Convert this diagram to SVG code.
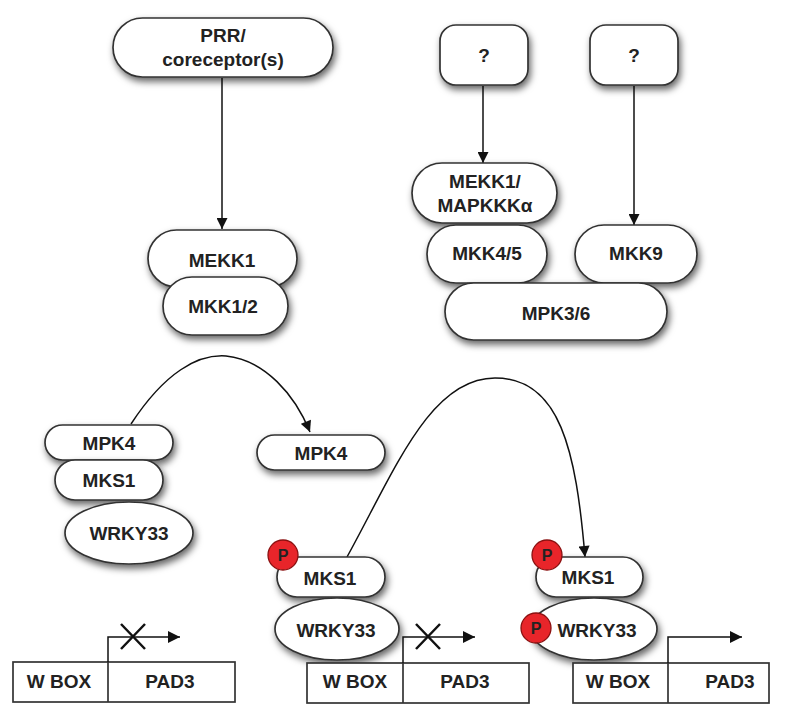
<svg xmlns="http://www.w3.org/2000/svg" width="785" height="704" viewBox="0 0 785 704">
<defs>
<filter id="sh" x="-20%" y="-30%" width="140%" height="170%">
<feDropShadow dx="2" dy="4" stdDeviation="3.5" flood-color="#000" flood-opacity="0.6"/>
</filter>
<marker id="ah" viewBox="0 0 10 10" refX="10" refY="5" markerWidth="12" markerHeight="11" markerUnits="userSpaceOnUse" orient="auto">
<path d="M0,0 L10,5 L0,10 z" fill="#111"/>
</marker>
<marker id="ah2" viewBox="0 0 10 10" refX="10" refY="5" markerWidth="15" markerHeight="12" markerUnits="userSpaceOnUse" orient="auto">
<path d="M0,0 L10,5 L0,10 z" fill="#111"/>
</marker>
</defs>
<style>
.n{fill:#fff;stroke:#333;stroke-width:1.7;filter:url(#sh)}
.t{font-family:"Liberation Sans",Arial,sans-serif;font-weight:bold;font-size:19px;fill:#222;text-anchor:middle}
.c{fill:none;stroke:#111;stroke-width:1.5}
.g{fill:#fff;stroke:#333;stroke-width:1.7}
.x{fill:none;stroke:#111;stroke-width:2.5}
.p{fill:#e8252a;stroke:#8a1010;stroke-width:1.3}
.pt{font-family:"Liberation Sans",Arial,sans-serif;font-weight:bold;font-size:16px;fill:#222;text-anchor:middle}
</style>
<rect width="785" height="704" fill="#fff"/>

<g id="connectors">
<line class="c" x1="222" y1="78" x2="222" y2="229" marker-end="url(#ah)"/>
<line class="c" x1="483" y1="86" x2="483" y2="163" marker-end="url(#ah)"/>
<line class="c" x1="634" y1="86" x2="634" y2="225" marker-end="url(#ah)"/>
<path class="c" d="M131,424 C165,372 198,354 226,356 C265,360 295,395 310,432" marker-end="url(#ah)"/>
<path class="c" d="M347,557 C395,470 430,378 495,378 C560,378 576,450 585,557" marker-end="url(#ah)"/>
</g>

<g id="prr"><rect class="n" x="113" y="18" width="220" height="59" rx="29.5"/>
<text class="t" x="223" y="42">PRR/</text><text class="t" x="223" y="66">coreceptor(s)</text></g>

<g id="q1"><rect class="n" x="440" y="25" width="88" height="60" rx="16"/><text class="t" x="484" y="62">?</text></g>
<g id="q2"><rect class="n" x="590" y="25" width="88" height="60" rx="16"/><text class="t" x="634" y="62">?</text></g>

<g id="mekk1"><rect class="n" x="148" y="230" width="149" height="57" rx="28.5"/><text class="t" x="222" y="267">MEKK1</text></g>
<g id="mkk12"><rect class="n" x="163" y="277" width="125" height="58" rx="29"/><text class="t" x="223" y="313">MKK1/2</text></g>

<g id="mekk1-mapkkk"><rect class="n" x="412" y="163" width="145" height="60" rx="30"/>
<text class="t" x="485" y="188">MEKK1/</text><text class="t" x="485" y="212">MAPKKKα</text></g>
<g id="mkk45"><rect class="n" x="427" y="225" width="120" height="58" rx="29"/><text class="t" x="487" y="260">MKK4/5</text></g>
<g id="mkk9"><rect class="n" x="575" y="225" width="122" height="58" rx="29"/><text class="t" x="636" y="260">MKK9</text></g>
<g id="mpk36"><rect class="n" x="445" y="283" width="222" height="57" rx="28.5"/><text class="t" x="556" y="320">MPK3/6</text></g>

<g id="mpk4-left"><rect class="n" x="45" y="425" width="128" height="35" rx="17.5"/><text class="t" x="109" y="450">MPK4</text></g>
<g id="mks1-left"><rect class="n" x="55" y="460" width="108" height="40" rx="20"/><text class="t" x="109" y="487">MKS1</text></g>
<g id="wrky33-left"><ellipse class="n" cx="129" cy="533" rx="64" ry="31"/><text class="t" x="129" y="540">WRKY33</text></g>

<g id="mpk4-right"><rect class="n" x="257" y="435" width="128" height="35" rx="17.5"/><text class="t" x="321" y="460">MPK4</text></g>

<g id="mks1-mid"><rect class="n" x="277" y="557" width="108" height="40" rx="20"/><text class="t" x="330" y="585">MKS1</text>
<circle class="p" cx="283" cy="555" r="15"/><text class="pt" x="283" y="561">P</text></g>
<g id="wrky33-mid"><ellipse class="n" cx="337" cy="629" rx="62" ry="31"/><text class="t" x="336" y="637">WRKY33</text></g>

<g id="mks1-right"><rect class="n" x="536" y="557" width="107" height="40" rx="20"/><text class="t" x="588" y="584">MKS1</text>
<circle class="p" cx="547" cy="555" r="15"/><text class="pt" x="547" y="561">P</text></g>
<g id="wrky33-right"><ellipse class="n" cx="594" cy="629" rx="63" ry="31"/><text class="t" x="597" y="637">WRKY33</text>
<circle class="p" cx="536" cy="628" r="15"/><text class="pt" x="536" y="634">P</text></g>

<g id="gene-left">
<rect class="g" x="13" y="662" width="222" height="40"/><line class="g" x1="108" y1="662" x2="108" y2="702"/>
<text class="t" x="59" y="688">W BOX</text><text class="t" x="170" y="688">PAD3</text>
<polyline class="c" points="108,662 108,637 180,637" marker-end="url(#ah2)"/>
<path class="x" d="M121,624 L145,649 M145,624 L121,649"/>
</g>
<g id="gene-mid">
<rect class="g" x="307" y="663" width="222" height="40"/><line class="g" x1="403" y1="663" x2="403" y2="703"/>
<text class="t" x="355" y="688">W BOX</text><text class="t" x="465" y="688">PAD3</text>
<polyline class="c" points="403,663 403,637 475,637" marker-end="url(#ah2)"/>
<path class="x" d="M416,624 L440,649 M440,624 L416,649"/>
</g>
<g id="gene-right">
<rect class="g" x="573" y="663" width="196" height="40"/><line class="g" x1="668" y1="663" x2="668" y2="703"/>
<text class="t" x="618" y="688">W BOX</text><text class="t" x="730" y="688">PAD3</text>
<polyline class="c" points="668,663 668,637 742,637" marker-end="url(#ah2)"/>
</g>
</svg>
